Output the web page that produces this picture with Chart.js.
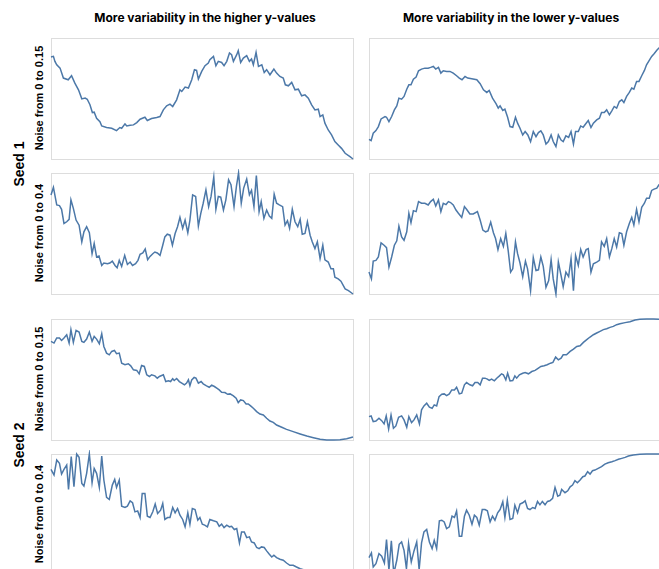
<!DOCTYPE html>
<html>
<head>
<meta charset="utf-8">
<script src="https://cdn.jsdelivr.net/npm/chart.js@4/dist/chart.umd.min.js"></script>
<style>
  body { margin: 0; background: #fff; overflow: hidden; }
  #wrap { position: relative; width: 680px; height: 600px; }
  .frame { position: absolute; border: 1px solid #ddd; box-sizing: border-box; }
  .cv { position: absolute; }
  .lbl { position: absolute; white-space: nowrap; color: #000; transform: translate(-50%, -50%); }
  .col { font: bold 12px Inter, sans-serif; }
  .seed { font: bold 14px "Liberation Sans", Arial, sans-serif; transform: translate(-50%, -50%) rotate(-90deg); }
  .noise { font: bold 11px "Liberation Sans", Arial, sans-serif; transform: translate(-50%, -50%) rotate(-90deg); }
</style>
</head>
<body>
<div id="wrap"></div>
<script>
// column / row labels
const colTitles = ['More variability in the higher y-values', 'More variability in the lower y-values'];
const seedTitles = ['Seed 1', 'Seed 2'];
const noiseTitles = ['Noise from 0 to 0.15', 'Noise from 0 to 0.4'];

// seed 1, higher y-values, noise 0.15
const s1HighLowNoiseX = [0,0.8,1.3,1.9,3.0,4.1,5.7,6.8,7.9,9.1,10.2,11.3,12.0,12.9,13.7,14.3,15.1,16.2,16.8,18.4,20.1,21.7,22.8,23.4,24.5,25.1,26.2,27.3,28.4,29.5,31.1,31.9,33.3,35.0,36.1,37.2,38.3,39.4,40.3,41.6,42.7,43.3,44.4,45.5,46.6,47.5,48.2,48.8,49.9,51.0,52.1,52.6,53.8,54.6,55.4,56.5,57.3,58.2,59.1,59.8,60.4,61.5,62.0,62.8,63.7,64.8,65.7,66.4,67.0,67.9,68.7,69.8,70.6,71.4,72.5,73.8,74.7,75.8,76.9,77.6,78.6,79.7,80.8,81.9,83.0,84.1,85.2,86.3,87.4,88.5,89.1,90.0,90.7,91.8,92.9,94.0,95.1,96.2,97.4,99.0,100];
const s1HighLowNoiseY = [84.3,84.8,80.7,77.9,75.1,66.9,65.5,68.8,62.7,57.2,49.7,50.3,49.4,44.8,38.4,38.7,33.7,30.9,27.3,26.0,25.4,23.5,26.0,25.4,29.0,27.3,27.9,28.2,30.1,32.9,34.5,31.8,33.4,34.3,35.1,40.6,43.9,45.3,43.4,48.9,57.2,55.8,59.4,58.6,65.5,73.8,73.2,66.0,72.4,77.1,79.3,82.0,84.8,77.1,80.7,79.8,77.1,80.7,87.6,86.2,80.7,86.2,89.5,79.8,83.4,85.4,80.7,82.6,77.9,88.1,76.5,77.9,71.5,73.8,69.6,74.3,71.0,68.2,66.9,61.3,60.5,63.3,57.2,57.7,52.2,53.0,50.3,44.8,40.6,41.2,35.1,36.5,29.6,24.0,19.9,14.4,11.6,8.8,4.7,1.9,0];

// seed 1, lower y-values, noise 0.15
const s1LowLowNoiseX = [0,0.7,1.4,2.3,3.1,4.0,5.3,5.8,6.6,7.5,8.4,9.2,9.9,10.8,11.6,12.5,13.2,13.9,14.7,15.6,16.4,17.4,18.5,19.6,20.4,21.3,22.1,23.0,23.8,24.6,25.7,26.8,27.9,29.0,29.9,30.8,31.8,32.7,34.0,35.7,36.8,37.9,39.0,39.8,40.9,42.1,42.8,43.4,44.3,45.0,45.9,46.7,47.6,48.5,49.2,50.0,50.9,51.7,52.6,53.5,54.4,55.3,56.1,56.9,57.7,58.6,59.4,60.3,61.0,61.9,62.7,63.6,64.3,65.2,66.1,66.9,67.7,68.4,69.3,70.1,70.9,71.9,72.6,73.5,74.3,75.4,76.3,77.0,77.9,78.7,79.6,80.4,81.2,82.0,82.9,83.7,84.4,85.3,86.2,87.0,87.7,88.6,89.4,90.3,91.2,91.9,92.8,93.6,94.4,95.3,96.0,98.0,100];
const s1LowLowNoiseY = [16.3,15.2,21.3,23.5,26.8,33.1,35.1,34.5,30.9,35.1,40.6,43.9,50.3,49.4,51.7,57.7,61.3,61.3,66.0,67.7,72.9,74.3,75.1,75.1,75.7,76.5,74.3,75.7,71.0,72.9,72.4,72.4,71.0,68.8,66.9,65.5,68.2,66.9,66.3,65.5,62.2,57.2,55.0,56.6,50.3,45.6,42.0,43.9,40.1,41.2,34.5,26.8,26.2,34.5,29.6,25.4,19.9,22.7,19.9,14.4,22.7,18.5,21.8,23.2,19.9,12.4,14.4,19.9,14.4,10.2,19.9,15.7,14.4,19.1,17.9,22.7,12.4,22.7,22.7,27.3,26.2,29.6,31.8,26.0,29.6,32.3,33.7,38.4,38.4,40.6,36.5,39.8,43.4,42.0,47.5,48.9,46.7,51.7,55.0,58.6,57.7,64.1,64.1,68.8,73.2,77.9,81.5,84.8,87.0,89.8,91.7,95.0,98.0];

// seed 1, higher y-values, noise 0.4
const s1HighHighNoiseX = [0,0.8,1.9,2.8,3.5,4.3,5.2,6.0,6.6,7.4,8.3,9.3,10.2,10.9,11.8,12.7,13.6,14.3,15.1,15.9,16.8,17.5,18.7,19.5,20.3,21.2,21.9,22.6,23.4,24.4,25.3,26.2,27.0,28.0,28.8,29.5,30.4,31.2,32.0,32.8,33.7,34.4,35.2,36.1,37.0,37.7,38.5,39.4,40.2,41.1,41.9,42.7,43.6,44.4,45.3,46.0,46.9,47.9,48.8,49.6,50.4,51.3,52.2,53.0,53.9,54.6,55.4,56.2,57.1,57.9,58.8,59.6,60.6,61.4,62.1,63.0,63.8,64.8,65.7,66.4,67.2,68.0,68.9,69.6,70.5,71.4,72.3,73.1,73.9,74.7,75.6,76.7,77.5,78.3,79.0,79.9,80.8,81.7,82.5,83.2,84.1,84.9,85.8,86.5,87.4,88.2,89.1,90.0,90.7,91.8,92.7,93.5,94.0,95.1,96.0,97.4,98.5,100];
const s1HighHighNoiseY = [81.9,88.1,73.6,73.1,70.0,58.3,59.7,61.7,77.8,70.8,61.1,56.9,43.1,51.4,55.6,50.6,33.3,41.7,30.6,31.4,23.6,25.6,25.0,25.6,27.2,23.6,21.7,27.8,22.8,31.9,24.4,26.4,23.6,25.0,27.8,32.8,33.9,37.2,28.3,31.1,33.3,34.7,33.9,31.9,40.3,47.2,49.4,48.6,40.3,50.0,55.6,63.3,54.2,61.1,50.6,61.1,81.9,80.6,56.1,66.7,75.0,86.1,72.2,80.6,96.7,70.0,80.6,80.0,69.4,77.8,94.4,90.3,72.2,88.9,100,75.0,87.5,95.0,81.9,85.6,72.2,97.8,68.1,76.4,62.5,69.4,64.4,62.5,82.5,75.0,73.6,72.2,56.9,60.6,54.2,70.0,59.7,55.6,61.7,49.4,50.0,59.7,48.6,43.1,37.5,43.1,29.2,40.3,28.3,26.4,20.8,20.8,13.9,12.5,10.6,4.2,2.8,0];

// seed 1, lower y-values, noise 0.4
const s1LowHighNoiseX = [0,0.8,1.4,2.3,3.1,4.0,5.0,5.8,6.6,7.5,8.4,9.2,9.9,10.8,11.6,12.5,13.2,13.9,14.7,15.6,16.4,17.4,18.5,19.6,20.4,21.3,22.1,23.0,23.8,24.6,25.5,26.3,27.0,27.9,28.8,29.6,30.7,31.6,32.3,33.4,34.5,35.9,36.8,37.7,38.6,39.4,40.3,41.2,41.9,42.7,43.6,44.5,45.3,46.1,46.9,47.6,48.5,49.2,50.0,50.9,51.8,52.5,53.5,54.4,55.3,56.1,56.9,57.7,58.6,59.5,60.3,61.0,61.9,62.7,63.6,64.3,65.2,66.1,66.9,67.7,68.4,69.3,70.1,70.9,71.9,72.6,73.5,74.3,75.4,76.3,77.0,77.9,78.7,79.6,80.4,81.2,82.0,82.9,83.7,84.4,85.3,86.2,87.0,87.7,88.6,89.4,90.3,91.2,91.9,92.8,93.6,94.4,95.3,96.0,98.0,100];
const s1LowHighNoiseY = [18.1,12.5,27.2,27.8,30.6,42.2,40.3,38.3,22.2,30.6,40.3,43.9,56.1,47.2,44.4,51.4,66.7,58.9,68.9,68.1,76.4,75.0,75.0,73.6,76.4,78.3,72.8,77.8,68.1,75.0,73.9,76.4,75.6,73.6,69.4,66.7,63.3,72.2,70.0,66.1,66.1,68.1,61.1,52.8,51.4,52.2,59.4,50.6,45.8,36.7,45.8,39.4,50.0,35.6,18.1,20.8,43.1,33.3,25.6,14.4,27.2,20.8,2.8,30.0,19.4,20.0,30.6,22.8,5.6,11.1,28.3,12.5,0,26.4,15.3,6.1,18.1,14.4,29.2,2.8,31.9,23.6,36.7,30.6,36.7,37.5,18.1,25.0,26.4,27.8,43.1,39.4,45.8,30.6,37.5,45.8,38.9,50.6,50.0,40.3,51.4,58.3,63.3,56.9,70.0,59.7,71.7,75.0,79.2,79.2,85.6,86.7,87.5,90.3,93.0,96.0];

// seed 2, higher y-values, noise 0.15
const s2HighLowNoiseX = [0,1.0,1.9,2.8,3.5,4.3,5.2,6.0,6.6,7.4,8.3,9.3,10.2,10.9,11.8,12.7,13.6,14.3,15.1,16.0,16.8,17.5,18.4,19.3,20.1,21.0,21.7,22.6,23.4,24.5,25.6,26.4,27.3,28.4,29.2,30.0,30.9,31.7,32.6,33.3,34.4,35.2,35.9,37.2,38.0,38.9,39.6,40.3,40.8,41.6,42.5,43.3,44.2,44.9,45.5,46.0,46.6,47.4,48.0,48.8,49.7,50.4,51.5,52.4,53.2,54.1,54.9,55.7,56.5,57.6,58.5,59.3,60.4,61.3,62.0,62.8,63.7,64.6,65.3,66.1,67.0,68.1,69.2,70.3,71.4,72.5,73.6,74.7,76.4,78.0,80.2,82.5,84.7,86.9,89.1,91.3,93.5,95.7,97.9,100];
const s2HighLowNoiseY = [81.5,80.1,84.3,84.3,82.3,84.3,87.0,80.1,91.2,80.7,90.6,89.2,81.5,80.7,83.4,89.2,81.5,85.6,83.4,79.6,87.8,77.3,71.8,70.4,73.2,74.0,71.3,71.8,63.5,62.2,63.0,61.3,58.0,57.5,54.7,61.6,60.8,53.9,52.5,53.9,53.0,51.1,52.5,53.9,48.3,48.9,48.3,50.6,49.2,50.8,48.3,47.0,45.6,47.0,49.7,44.8,49.7,51.7,51.1,47.0,48.3,46.4,44.8,43.6,45.3,44.2,42.8,41.4,39.5,39.2,37.8,38.1,36.5,34.5,30.9,33.1,32.6,29.8,29.8,28.2,26.2,23.5,21.5,20.7,18.0,15.7,14.6,12.4,10.5,8.8,6.9,5.0,3.3,1.9,0.6,0,0,0.3,1.1,2.5];

// seed 2, lower y-values, noise 0.15
const s2LowLowNoiseX = [0,0.7,1.4,2.3,3.3,4.2,5.0,5.7,6.5,7.3,8.1,8.9,9.8,10.8,11.6,12.5,13.2,14.1,14.9,15.8,16.7,17.4,18.2,19.1,20.0,20.9,21.6,22.4,23.2,24.1,24.9,25.7,26.6,27.4,28.3,29.0,29.9,30.7,31.6,32.3,33.4,34.3,35.1,36.0,36.8,37.6,38.4,39.2,39.8,40.6,41.5,42.3,43.2,43.9,44.5,45.3,45.9,46.7,47.6,48.3,48.9,49.8,50.9,51.7,52.8,53.9,55.0,56.1,56.9,58.0,59.0,60.1,60.9,61.8,62.7,63.6,64.3,65.4,66.6,67.7,68.8,69.9,71.0,72.1,73.2,74.3,75.4,76.5,77.6,78.7,79.8,80.9,82.0,83.1,84.8,86.4,88.1,89.7,91.9,94.2,96.0,98.6,100];
const s2LowLowNoiseY = [19.3,19.9,15.2,15.7,18.0,16.0,13.3,19.9,9.1,20.7,9.7,11.6,18.8,19.9,16.6,10.5,19.3,14.4,16.6,20.7,13.3,24.9,28.2,30.4,27.1,26.2,29.0,28.2,35.9,37.8,38.1,36.7,38.1,41.4,41.4,43.6,38.1,38.7,45.6,47.5,45.6,44.8,47.5,47.5,45.6,51.1,51.1,50.3,49.2,50.3,48.9,51.1,53.0,54.7,53.9,49.7,55.2,48.9,49.2,53.0,51.1,53.9,55.2,55.8,54.7,56.6,57.5,59.4,60.8,61.3,62.2,63.5,64.1,68.5,66.3,67.7,70.4,70.4,73.2,75.1,77.3,77.9,80.7,82.9,85.1,87.0,88.4,89.8,91.2,92.0,93.1,93.9,95.3,96.1,97.0,97.8,99.2,99.7,100,100,99.7,99.2,98.9];

// seed 2, higher y-values, noise 0.4
const s2HighHighNoiseX = [0,1.0,1.9,2.8,3.5,4.3,5.2,5.8,6.7,7.6,8.5,9.3,10.2,10.9,11.8,12.7,13.6,14.3,15.1,16.0,16.8,17.5,18.4,19.3,20.3,21.1,21.7,22.6,23.4,24.5,25.3,26.2,27.0,27.8,28.7,29.5,30.2,31.1,31.9,32.8,33.7,34.5,35.3,36.3,37.0,37.7,38.6,39.4,40.3,41.1,41.9,42.7,43.6,44.4,45.3,46.0,46.8,47.7,48.6,49.3,50.1,50.9,51.8,52.6,53.8,54.9,55.7,56.5,57.3,58.2,59.1,59.8,60.7,61.5,62.4,63.1,64.0,64.8,65.7,66.4,67.3,68.1,68.9,69.7,70.6,71.4,72.3,73.1,73.8,74.7,75.8,76.9,78.0,79.1,80.2,81.3,82.5,83.6,86.0,89.0,92.0,95.0,98.0,100];
const s2HighHighNoiseY = [87.3,82.6,95.0,92.3,83.4,87.3,90.9,70.7,97.8,72.9,100,97.2,75.7,73.5,84.0,100,76.2,88.1,84.0,72.4,98.3,78.5,64.1,62.4,74.3,79.0,72.4,78.5,56.9,55.8,56.9,61.3,59.7,52.2,53.0,47.5,67.4,67.4,48.6,47.5,52.2,58.6,50.8,53.6,59.1,45.9,47.5,47.5,55.8,51.4,55.0,49.4,45.9,39.8,51.4,42.0,55.0,54.1,45.3,47.5,42.0,41.2,39.8,45.9,44.8,43.9,40.3,42.0,39.2,41.2,39.8,40.3,37.6,38.4,26.5,35.6,35.6,30.9,31.5,27.3,26.5,22.7,21.8,23.2,22.7,19.9,17.1,14.9,16.3,14.4,13.0,12.2,9.9,8.0,8.0,6.6,5.2,4.4,2.5,0.8,0,0.2,1.2,2.5];

// seed 2, lower y-values, noise 0.4
const s2LowHighNoiseX = [0,0.8,1.4,2.3,3.3,4.2,5.1,5.8,6.6,7.4,8.2,9.2,10.0,10.8,11.6,12.4,13.1,14.0,14.9,15.8,16.6,17.4,18.2,19.1,20.0,20.9,21.6,22.4,23.3,24.1,24.9,25.7,26.6,27.5,28.3,29.0,29.9,30.7,31.6,32.3,33.2,34.1,34.9,35.7,36.5,37.5,38.4,39.2,40.1,40.9,41.7,42.6,43.4,44.3,45.0,45.8,46.7,47.6,48.3,49.2,50.0,50.9,51.7,52.5,53.3,54.2,55.0,55.8,56.6,57.4,58.3,59.1,59.9,60.8,61.6,62.5,63.2,63.8,64.9,65.8,66.6,67.4,68.2,69.0,69.9,70.8,71.5,72.4,73.2,74.0,74.8,75.9,77.0,78.1,79.2,80.4,81.5,82.6,83.7,84.8,85.9,87.5,89.7,91.9,94.2,96.0,98.6,100];
const s2LowHighNoiseY = [14.4,18.2,6.6,9.4,17.7,15.5,9.9,29.3,3.9,28.2,1.1,12.2,25.4,27.3,20.4,5.2,26.0,10.8,19.9,27.3,4.4,26.5,35.6,37.6,27.3,21.8,28.7,21.8,44.8,45.3,43.9,38.4,39.8,48.6,47.5,52.8,32.0,32.0,48.6,53.6,49.4,42.0,49.4,47.5,41.2,54.1,54.1,53.0,43.9,48.6,45.3,51.4,54.1,60.5,47.5,61.9,45.9,46.7,57.7,51.4,58.6,59.7,61.3,55.0,54.1,55.8,55.0,60.8,58.0,60.8,58.0,60.8,61.3,63.3,72.4,65.2,66.0,70.7,68.0,69.6,72.9,74.3,77.9,76.2,78.5,81.2,81.8,85.4,83.4,86.2,86.7,88.1,89.5,91.7,92.8,93.6,94.5,95.6,96.4,97.2,98.3,99.2,99.7,100,100,100,99.4,99.2];

const panels = [
  { xs: s1HighLowNoiseX, ys: s1HighLowNoiseY, left: 51, top: 38 },
  { xs: s1LowLowNoiseX, ys: s1LowLowNoiseY, left: 369, top: 38 },
  { xs: s1HighHighNoiseX, ys: s1HighHighNoiseY, left: 51, top: 173 },
  { xs: s1LowHighNoiseX, ys: s1LowHighNoiseY, left: 369, top: 173 },
  { xs: s2HighLowNoiseX, ys: s2HighLowNoiseY, left: 51, top: 319 },
  { xs: s2LowLowNoiseX, ys: s2LowLowNoiseY, left: 369, top: 319 },
  { xs: s2HighHighNoiseX, ys: s2HighHighNoiseY, left: 51, top: 454 },
  { xs: s2LowHighNoiseX, ys: s2LowHighNoiseY, left: 369, top: 454 }
];

const PW = 302, PH = 121, PAD = 4;
const wrap = document.getElementById('wrap');

function addLabel(text, cls, x, y) {
  const d = document.createElement('div');
  d.className = 'lbl ' + cls;
  d.textContent = text;
  d.style.left = x + 'px';
  d.style.top = y + 'px';
  wrap.appendChild(d);
}

panels.forEach((p, i) => {
  const frame = document.createElement('div');
  frame.className = 'frame';
  frame.style.left = p.left + 'px';
  frame.style.top = p.top + 'px';
  frame.style.width = (PW + 1) + 'px';
  frame.style.height = (PH + 1) + 'px';
  wrap.appendChild(frame);

  const canvas = document.createElement('canvas');
  canvas.className = 'cv';
  canvas.width = PW + 2 * PAD;
  canvas.height = PH + 2 * PAD;
  canvas.style.left = (p.left - PAD) + 'px';
  canvas.style.top = (p.top - PAD) + 'px';
  wrap.appendChild(canvas);

  new Chart(canvas.getContext('2d'), {
    type: 'line',
    data: {
      datasets: [{
        data: p.xs.map((x, j) => ({ x, y: p.ys[j] })),
        borderColor: '#4c78a8',
        borderWidth: 1.5,
        pointRadius: 0,
        tension: 0,
        clip: false
      }]
    },
    options: {
      responsive: false,
      animation: false,
      events: [],
      layout: { padding: PAD },
      plugins: { legend: { display: false }, tooltip: { enabled: false } },
      scales: {
        x: { type: 'linear', min: 0, max: 100, display: false },
        y: { min: 0, max: 100, display: false }
      }
    }
  });

  if (i % 2 === 0) {
    addLabel(noiseTitles[Math.floor(i / 2) % 2], 'noise', 38.5, p.top + PH / 2 - 1);
  }
});

addLabel(colTitles[0], 'col', 205, 17);
addLabel(colTitles[1], 'col', 511, 17);
addLabel(seedTitles[0], 'seed', 19, 164);
addLabel(seedTitles[1], 'seed', 19, 445);
</script>
</body>
</html>
